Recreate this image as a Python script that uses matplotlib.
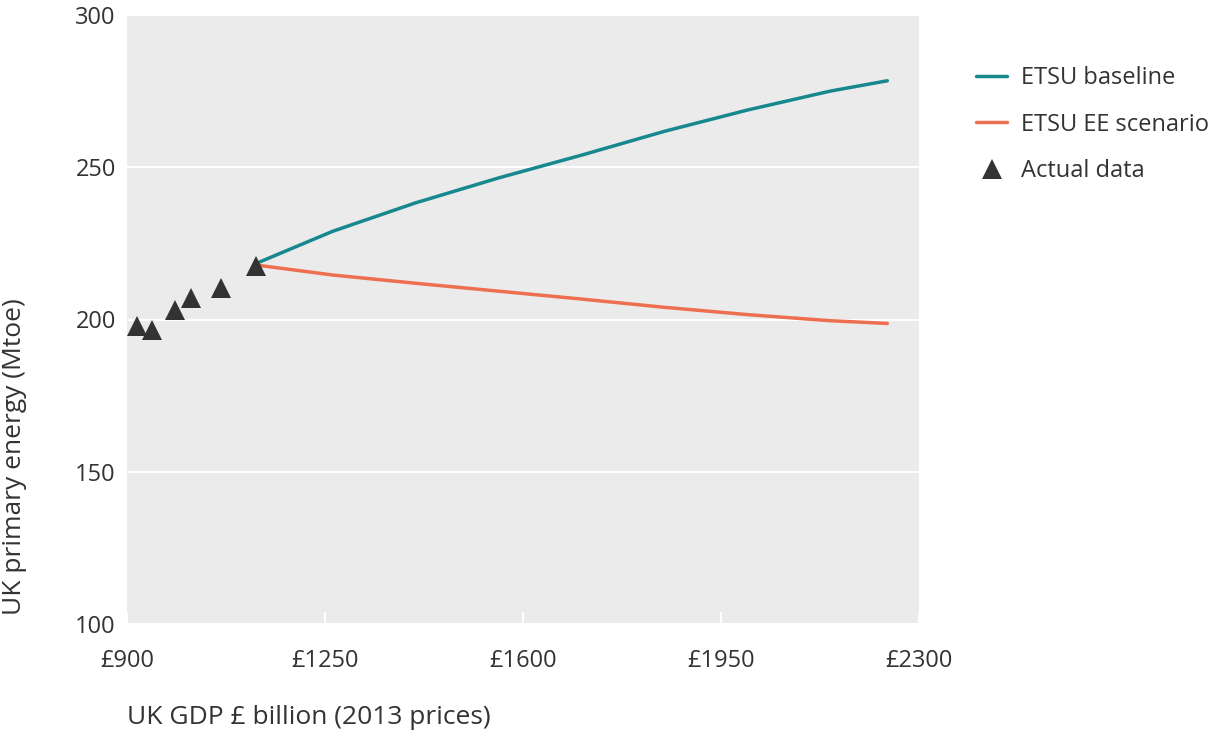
import matplotlib
matplotlib.use('Agg')
import matplotlib.pyplot as plt

plt.rcParams['font.family'] = ['Open Sans', 'DejaVu Sans']

# actual data points (GDP £bn, Mtoe)
actual_gdp = [918, 944, 985, 1013, 1067, 1128]
actual_energy = [197.9, 196.4, 203.2, 207.0, 210.4, 217.7]

# ETSU projections
proj_gdp = [1132, 1264, 1410, 1557, 1704, 1850, 1997, 2143, 2244]
base_energy = [218.7, 229.0, 238.3, 246.5, 254.0, 261.8, 268.8, 275.0, 278.4]
ee_energy = [217.8, 214.6, 211.9, 209.3, 206.7, 204.0, 201.6, 199.6, 198.7]

x_ticks = [900, 1250, 1600, 1950, 2300]
x_ticklabels = ['£900', '£1250', '£1600', '£1950', '£2300']
y_ticks = [100, 150, 200, 250, 300]

text_col = '#333333'
teal = '#17888e'
orange = '#ee6f4f'

fig = plt.figure(figsize=(12.19, 7.36), dpi=100)
ax = fig.add_axes([127 / 1219, 1 - 624 / 736, (919 - 127) / 1219, (624 - 15) / 736])
ax.set_facecolor('#ebebeb')
for s in ax.spines.values():
    s.set_visible(False)

ax.plot(proj_gdp, base_energy, color=teal, lw=2.5, solid_capstyle='round', label='ETSU baseline', zorder=3)
ax.plot(proj_gdp, ee_energy, color=orange, lw=2.5, solid_capstyle='round', label='ETSU EE scenario', zorder=3)
ax.plot(actual_gdp, actual_energy, ls='none', marker='^', ms=15, color=text_col,
        markeredgewidth=0, label='Actual data', zorder=4)

ax.set_xlim(900, 2300)
ax.set_ylim(100, 300)
ax.set_xticks(x_ticks)
ax.set_xticklabels(x_ticklabels)
ax.set_yticks(y_ticks)
ax.yaxis.grid(True, color='white', lw=1.5)
ax.set_axisbelow(True)
ax.tick_params(axis='y', length=0, pad=8, labelsize=17, labelcolor=text_col)
ax.tick_params(axis='x', direction='in', length=9, width=1.5, color='white', pad=18,
               labelsize=17, labelcolor=text_col)

fig.text(127 / 1219, 1 - 718 / 736, 'UK GDP £ billion (2013 prices)', fontsize=19,
         color=text_col, ha='left', va='center')
fig.text(15 / 1219, 1 - 457 / 736, 'UK primary energy (Mtoe)', fontsize=19,
         color=text_col, ha='center', va='center', rotation=90)

leg = ax.legend(loc='upper left', bbox_to_anchor=(955 / 1219, 1 - 45 / 736),
                bbox_transform=fig.transFigure, frameon=False, fontsize=17,
                handlelength=1.3, handletextpad=0.6, labelspacing=0.95)
for t in leg.get_texts():
    t.set_color(text_col)

fig.savefig('out.png', dpi=100)
